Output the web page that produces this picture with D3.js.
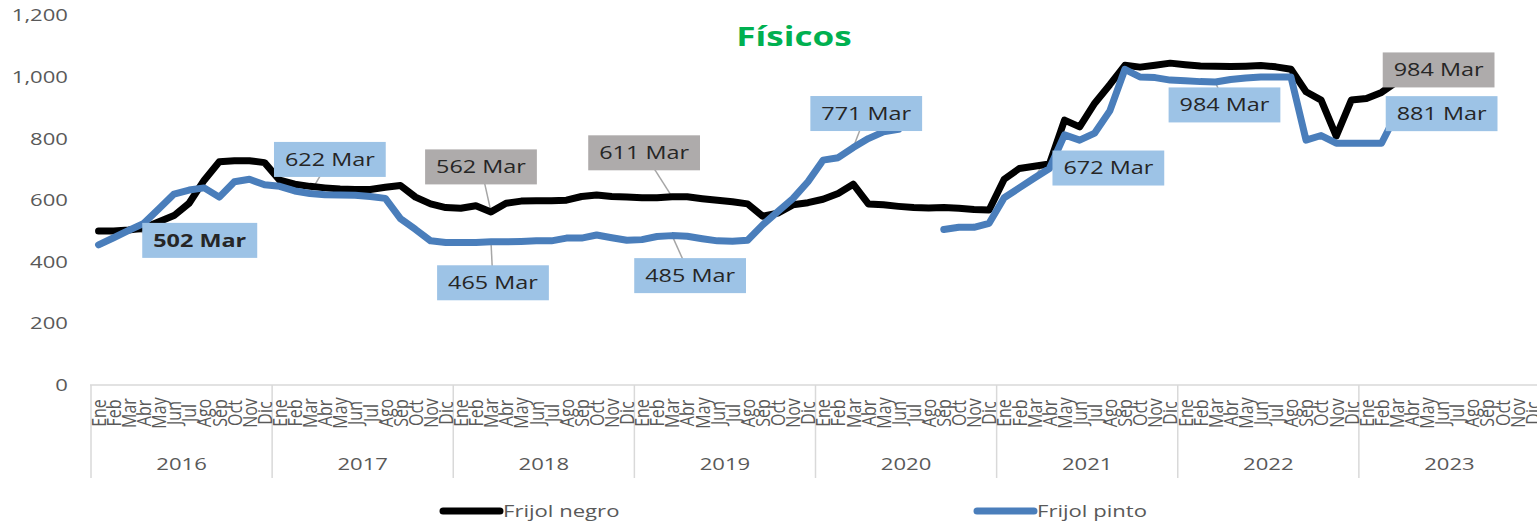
<!DOCTYPE html>
<html>
<head>
<meta charset="utf-8">
<script src="https://cdn.jsdelivr.net/npm/d3@7"></script>
<style>
  body { margin: 0; background: #fff; }
  svg { display: block; }
  text { font-family: "Open Sans", sans-serif; }
</style>
</head>
<body>
<svg width="1537" height="523"></svg>
<script>
// data (Jan 2016 .. Mar 2023)
const years = [2016, 2017, 2018, 2019, 2020, 2021, 2022, 2023];
const monthNames = ["Ene","Feb","Mar","Abr","May","Jun","Jul","Ago","Sep","Oct","Nov","Dic"];
const yTicks = [0, 200, 400, 600, 800, 1000, 1200];
const seriesNames = ["Frijol negro", "Frijol pinto"];

const negro = [
  500, 500, 503, 510, 530, 550, 590, 665, 725, 728, 728, 722,
  665, 652, 645, 640, 636, 635, 635, 642, 648, 610, 588, 576,
  574, 582, 562, 590, 597, 598, 598, 600, 612, 617, 612, 610,
  608, 608, 611, 611, 605, 600, 595, 588, 548, 558, 585, 592,
  603, 622, 652, 588, 585, 580, 576, 575, 576, 574, 570, 568,
  668, 703, 710, 718, 860, 838, 915, 975, 1038, 1032, 1038, 1045,
  1040, 1036, 1035, 1034, 1035, 1037, 1033, 1025, 952, 925, 808, 925,
  930, 950, 984
];
const pinto = [
  455, 478, 502, 525, 572, 620, 633, 640, 610, 660, 668, 650,
  645, 630, 622, 618, 617, 616, 612, 606, 540, 505, 468, 463,
  463, 463, 465, 465, 466, 468, 468, 477, 477, 487, 478, 470,
  472, 482, 485, 483, 475, 468, 467, 470, 520, 563, 605, 660,
  730, 738, 771, 800, 822, 830, null, null, 505, 512, 512, 525,
  608, 640, 672, 703, 812, 795, 818, 890, 1025, 1000, 998, 990,
  988, 985, 984, 992, 997, 1000, 1000, 1000, 795, 810, 785, 785,
  785, 785, 881
];
// March points that carry a callout
const calloutSeries = ["pinto","pinto","negro","pinto","negro","pinto","pinto","pinto","pinto","negro","pinto"];
const calloutYears  = [2016, 2017, 2018, 2018, 2019, 2019, 2020, 2021, 2022, 2023, 2023];

// layout
const SX = 1.3; // text in the picture is stretched sideways
const boxOffset = [[71,10],[20,-34],[-10,-45],[2,41],[-28,-44],[18,40],[13,-34],[74,-10],[9,23],[42,-12],[45,0]];
const colors = { negro: "#000000", pinto: "#4A7EBB" };
const boxFill = { negro: "#AEABAB", pinto: "#9DC3E6" };
const values = { negro, pinto };

const svg = d3.select("svg");

const months = years.flatMap(yr => monthNames.map(m => m + "-" + yr));
const x = d3.scaleBand().domain(months).range([91, 1540]);
const y = d3.scaleLinear().domain([0, 1200]).range([385, 15.4]);
const cx = i => x(months[i]) + x.bandwidth() / 2;

function stretched(sel, tx, ty, extra) {
  return sel.attr("transform", `translate(${tx},${ty}) scale(${SX},1)` + (extra || ""));
}

// title
stretched(svg.append("text"), 794, 46)
  .attr("text-anchor", "middle")
  .attr("font-size", 27).attr("font-weight", "bold")
  .attr("fill", "#00B050")
  .text("Físicos");

// y tick labels
yTicks.forEach(v => {
  stretched(svg.append("text"), 68, y(v))
    .attr("text-anchor", "end").attr("dy", "0.35em")
    .attr("font-size", 17).attr("fill", "#595959")
    .text(d3.format(",")(v));
});

// category axis
svg.append("line")
  .attr("x1", 90).attr("x2", 1537).attr("y1", 385).attr("y2", 385)
  .attr("stroke", "#D9D9D9").attr("stroke-width", 1.5);

years.forEach(yr => {
  const x0 = x("Ene-" + yr);
  svg.append("line")
    .attr("x1", x0).attr("x2", x0).attr("y1", 385).attr("y2", 478)
    .attr("stroke", "#D9D9D9").attr("stroke-width", 1.5);
  stretched(svg.append("text"), x0 + 6 * x.step(), 470)
    .attr("text-anchor", "middle")
    .attr("font-size", 17).attr("fill", "#595959")
    .text(yr);
});

months.forEach((m, i) => {
  stretched(svg.append("text"), cx(i), 413, " rotate(-90)")
    .attr("text-anchor", "middle").attr("dy", "0.35em")
    .attr("font-size", 16).attr("fill", "#595959")
    .text(m.split("-")[0]);
});

// callout leaders (under the lines)
const callouts = calloutSeries.map((s, k) => {
  const i = (calloutYears[k] - years[0]) * 12 + 2;
  const v = values[s][i];
  const px = cx(i), py = y(v);
  return { s, v, px, py, bx: px + boxOffset[k][0], by: py + boxOffset[k][1], bold: k === 0, elbow: k === 7 };
});

callouts.forEach(c => {
  const d = c.elbow
    ? `M${c.bx},${c.by}L${c.px + 6},${c.by}L${c.px},${c.py}`
    : `M${c.bx},${c.by}L${c.px},${c.py}`;
  svg.append("path").attr("d", d)
    .attr("fill", "none").attr("stroke", "#A6A6A6").attr("stroke-width", 1.5);
});

// series lines
const line = d3.line()
  .defined(d => d.v != null)
  .x(d => cx(d.i))
  .y(d => y(d.v));

["negro", "pinto"].forEach(s => {
  svg.append("path")
    .datum(values[s].map((v, i) => ({ i, v })))
    .attr("d", line)
    .attr("fill", "none")
    .attr("stroke", colors[s])
    .attr("stroke-width", 7)
    .attr("stroke-linejoin", "round")
    .attr("stroke-linecap", "round");
});

// callout boxes
callouts.forEach(c => {
  const g = svg.append("g");
  const rect = g.append("rect").attr("fill", boxFill[c.s]);
  const t = stretched(g.append("text"), c.bx, c.by)
    .attr("text-anchor", "middle").attr("dy", "0.35em")
    .attr("font-size", 18).attr("fill", "#262626")
    .attr("font-weight", c.bold ? "bold" : null)
    .text(c.v + " Mar");
  const w = t.node().getComputedTextLength() * SX + 22;
  rect.attr("x", c.bx - w / 2).attr("y", c.by - 17.5).attr("width", w).attr("height", 35);
});

// legend
const legendX = [443, 977];
["negro", "pinto"].forEach((s, k) => {
  svg.append("line")
    .attr("x1", legendX[k]).attr("x2", legendX[k] + 57)
    .attr("y1", 511).attr("y2", 511)
    .attr("stroke", colors[s]).attr("stroke-width", 7)
    .attr("stroke-linecap", "round");
  stretched(svg.append("text"), legendX[k] + 60, 511)
    .attr("dy", "0.35em")
    .attr("font-size", 17).attr("fill", "#595959")
    .text(seriesNames[k]);
});
</script>
</body>
</html>
